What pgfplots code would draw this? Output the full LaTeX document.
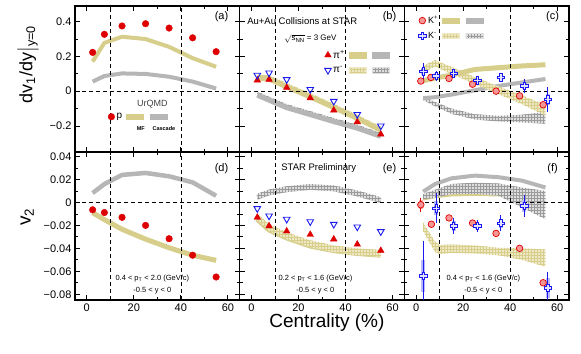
\documentclass[border=0pt]{standalone}
\usepackage{fontspec}
\setmainfont{Liberation Sans}
\usepackage{amsmath}
\usepackage{pgfplots}
\pgfplotsset{compat=1.18}
\usepgfplotslibrary{groupplots}
\usetikzlibrary{patterns,calc}

\definecolor{mf}{RGB}{214,206,138}
\definecolor{mfl}{RGB}{238,233,196}
\definecolor{cas}{RGB}{182,182,182}
\definecolor{casl}{RGB}{222,222,222}
\definecolor{pred}{RGB}{222,0,0}
\definecolor{pblue}{RGB}{25,25,240}
\definecolor{kpink}{RGB}{246,150,150}

% hollow plus for K-
\pgfdeclareplotmark{ocross}{%
  \pgfpathmoveto{\pgfqpoint{0.3\pgfplotmarksize}{\pgfplotmarksize}}%
  \pgfpathlineto{\pgfqpoint{0.3\pgfplotmarksize}{0.3\pgfplotmarksize}}%
  \pgfpathlineto{\pgfqpoint{\pgfplotmarksize}{0.3\pgfplotmarksize}}%
  \pgfpathlineto{\pgfqpoint{\pgfplotmarksize}{-0.3\pgfplotmarksize}}%
  \pgfpathlineto{\pgfqpoint{0.3\pgfplotmarksize}{-0.3\pgfplotmarksize}}%
  \pgfpathlineto{\pgfqpoint{0.3\pgfplotmarksize}{-\pgfplotmarksize}}%
  \pgfpathlineto{\pgfqpoint{-0.3\pgfplotmarksize}{-\pgfplotmarksize}}%
  \pgfpathlineto{\pgfqpoint{-0.3\pgfplotmarksize}{-0.3\pgfplotmarksize}}%
  \pgfpathlineto{\pgfqpoint{-\pgfplotmarksize}{-0.3\pgfplotmarksize}}%
  \pgfpathlineto{\pgfqpoint{-\pgfplotmarksize}{0.3\pgfplotmarksize}}%
  \pgfpathlineto{\pgfqpoint{-0.3\pgfplotmarksize}{0.3\pgfplotmarksize}}%
  \pgfpathlineto{\pgfqpoint{-0.3\pgfplotmarksize}{\pgfplotmarksize}}%
  \pgfpathclose\pgfusepathqfillstroke}

\tikzset{refl/.style={black, line width=0.6pt, dash pattern=on 4pt off 3pt}}
\newcommand{\reflines}{%
  \draw[refl] ({axis cs:10,0}|-{rel axis cs:0,0}) -- ({axis cs:10,0}|-{rel axis cs:0,1});
  \draw[refl] ({axis cs:40,0}|-{rel axis cs:0,0}) -- ({axis cs:40,0}|-{rel axis cs:0,1});
  \draw[refl] ({rel axis cs:0,0}|-{axis cs:0,0}) -- ({rel axis cs:1,0}|-{axis cs:0,0});}

\pgfplotsset{
  mfline/.style={draw=mf, line width=#1, line join=round, mark=none},
  casline/.style={draw=cas, line width=#1, line join=round, mark=none},
  mfhatch/.style={draw=none, fill=mfl, postaction={pattern=grid, pattern color=mf}, mark=none},
  cashatch/.style={draw=none, fill=casl, postaction={pattern=grid, pattern color=cas!85!black}, mark=none},
  protm/.style={only marks, mark=*, mark size=3.3pt, draw=pred, fill=pred},
  pipm/.style={only marks, mark=triangle*, mark size=3.8pt, draw=pred, fill=pred},
  pimm/.style={only marks, mark=triangle, mark size=3.8pt, draw=pblue, mark options={rotate=180, fill=white, line width=0.9pt}},
  kpm/.style={only marks, mark=*, mark size=3.3pt, draw=pred, fill=kpink, line width=0.7pt},
  kmm/.style={only marks, mark=ocross, mark size=3.8pt, draw=pblue, fill=pblue!12, line width=0.8pt},
  mfleg/.style={area legend, draw=mf, fill=mf},
  casleg/.style={area legend, draw=cas, fill=cas},
  mfhleg/.style={area legend, draw=mfl, fill=mfl, postaction={pattern=grid, pattern color=mf}},
  cashleg/.style={area legend, draw=casl, fill=casl, postaction={pattern=grid, pattern color=cas!85!black}},
  rowtop/.style={height=146pt, ymin=-0.35, ymax=0.49, ytick={-0.2,0,0.2,0.4}},
  rowbot/.style={height=148pt, ymin=-0.085, ymax=0.044, ytick={-0.08,-0.06,-0.04,-0.02,0,0.02,0.04}},
  leg/.style={legend columns=3, legend cell align=left,
    legend style={draw=none, fill=none, inner sep=0pt, font=\fontsize{10}{11}\selectfont,
      /tikz/every even column/.append style={column sep=2pt}}},
}

\begin{document}
\begin{tikzpicture}
\begin{groupplot}[
  group style={group size=3 by 2, horizontal sep=0pt, vertical sep=0pt,
    xticklabels at=edge bottom, yticklabels at=edge left},
  scale only axis, width=164.7pt,
  xmin=-5, xmax=65, xtick={0,20,40,60}, minor x tick num=1, minor y tick num=1,
  scaled y ticks=false,
  tick align=inside, major tick length=5pt, minor tick length=3pt,
  axis line style={line width=1.1pt}, every tick/.style={black, line width=0.8pt},
  tick label style={font=\fontsize{11}{12}\selectfont},
  /pgf/number format/assume math mode=true,
]

% (a) protons dv1/dy
\nextgroupplot[rowtop, yticklabels={−0.2,0,0.2,0.4},
  ylabel={dv\textsubscript{1}/dy$\big|$\textsubscript{y=0}},
  ylabel style={font=\fontsize{18}{19}\selectfont, at={(axis description cs:-0.285,0.6)}, anchor=center},
  leg, legend style={at={(axis description cs:0.20,0.28)}, anchor=north west,
    /tikz/column 2/.style={column sep=8pt}}]
\addlegendimage{protm}
\addlegendentry{p}
\addlegendimage{mfleg}
\addlegendentry{}
\addlegendimage{casleg}
\addlegendentry{}
\addplot[mfline=4pt] coordinates {(2.5,0.17)(7.5,0.278)(15,0.313)(25,0.30)(35,0.255)(45,0.19)(55,0.14)};
\addplot[casline=4pt] coordinates {(2.5,0.055)(7.5,0.087)(15,0.102)(25,0.099)(35,0.083)(45,0.055)(55,0.015)};
\reflines
\addplot[protm] coordinates {(2.5,0.223)(7.5,0.327)(15,0.375)(25,0.388)(35,0.363)(45,0.307)(55,0.227)};
\node[font=\fontsize{11}{12}\selectfont] at (axis description cs:0.89,0.925) {(a)};
\node[font=\fontsize{9}{10}\selectfont, text=black!75] at (axis description cs:0.47,0.325) {UrQMD};
\node[font=\bfseries\fontsize{5.5}{6}\selectfont] at (axis description cs:0.40,0.16) {MF};
\node[font=\bfseries\fontsize{5.5}{6}\selectfont] at (axis description cs:0.54,0.16) {Cascade};

% (b) pions dv1/dy
\nextgroupplot[rowtop, leg, legend style={at={(axis description cs:0.515,0.71)}, anchor=north west, row sep=3pt}]
\addlegendimage{pipm}
\addlegendentry{π\textsuperscript{+}}
\addlegendimage{mfleg}
\addlegendentry{}
\addlegendimage{casleg}
\addlegendentry{}
\addlegendimage{pimm}
\addlegendentry{π\textsuperscript{-}}
\addlegendimage{mfhleg}
\addlegendentry{}
\addlegendimage{cashleg}
\addlegendentry{}
\addplot[cashatch] coordinates {(2.5,-0.003)(7.5,-0.032)(15,-0.075)(25,-0.115)(35,-0.155)(45,-0.193)(55,-0.24)
  (55,-0.268)(45,-0.221)(35,-0.183)(25,-0.143)(15,-0.103)(7.5,-0.06)(2.5,-0.031)} -- cycle;
\addplot[casline=5pt] coordinates {(2.5,-0.023)(7.5,-0.052)(15,-0.095)(25,-0.135)(35,-0.175)(45,-0.213)(55,-0.26)};
\addplot[mfhatch] coordinates {(2.5,0.096)(7.5,0.091)(15,0.046)(25,-0.012)(35,-0.073)(45,-0.136)(55,-0.204)
  (55,-0.236)(45,-0.168)(35,-0.105)(25,-0.044)(15,0.014)(7.5,0.059)(2.5,0.064)} -- cycle;
\addplot[mfline=5pt] coordinates {(2.5,0.075)(7.5,0.07)(15,0.025)(25,-0.033)(35,-0.094)(45,-0.157)(55,-0.225)};
\reflines
\addplot[pipm] coordinates {(2.5,0.063)(7.5,0.067)(15,0.021)(25,-0.039)(35,-0.11)(45,-0.177)(55,-0.248)};
\addplot[pimm] coordinates {(2.5,0.092)(7.5,0.105)(15,0.067)(25,0.01)(35,-0.058)(45,-0.134)(55,-0.20)};
\node[font=\fontsize{11}{12}\selectfont] at (axis description cs:0.91,0.925) {(b)};
\node[font=\fontsize{9.5}{10}\selectfont] at (axis description cs:0.38,0.895) {Au+Au Collisions at STAR};
\node[font=\fontsize{8}{9}\selectfont] at (axis description cs:0.43,0.775) {$\sqrt{\text{s}_{\text{NN}}}$ = 3 GeV};

% (c) kaons dv1/dy
\nextgroupplot[rowtop, leg, legend style={at={(axis description cs:0.085,0.945)}, anchor=north west, row sep=3pt, font=\fontsize{9}{10}\selectfont,
    /tikz/column 2/.style={column sep=5pt}}]
\addlegendimage{kpm}
\addlegendentry{K\textsuperscript{+}}
\addlegendimage{mfleg}
\addlegendentry{}
\addlegendimage{casleg}
\addlegendentry{}
\addlegendimage{kmm}
\addlegendentry{K\textsuperscript{-}}
\addlegendimage{mfhleg}
\addlegendentry{}
\addlegendimage{cashleg}
\addlegendentry{}
\addplot[cashatch] coordinates {(3,-0.032)(8,-0.062)(15,-0.10)(25,-0.133)(35,-0.142)(45,-0.136)(55,-0.119)
  (55,-0.187)(45,-0.18)(35,-0.174)(25,-0.163)(15,-0.13)(8,-0.086)(3,-0.052)} -- cycle;
\addplot[casline=4pt] coordinates {(3,-0.04)(8,-0.035)(15,-0.02)(25,0.005)(35,0.03)(45,0.05)(55,0.07)};
\addplot[mfhatch] coordinates {(3,0.145)(8,0.178)(15,0.14)(25,0.08)(35,0.027)(45,-0.025)(55,-0.08)
  (55,-0.14)(45,-0.075)(35,-0.017)(25,0.04)(15,0.10)(8,0.142)(3,0.105)} -- cycle;
\addplot[mfline=5pt] coordinates {(3,0.06)(8,0.075)(15,0.092)(25,0.125)(35,0.135)(45,0.145)(55,0.152)};
\reflines
\addplot[kpm] coordinates {(2,0.058)(6.3,0.079)(14,0.073)(24,0.040)(34,0.0)(44,-0.027)(54,-0.078)};
\addplot[only marks, mark=none, error bars/.cd, y dir=both, y explicit,
  error bar style={line width=4pt, pblue!30}, error mark=none]
  coordinates {(3,0.115)+-(0,0.02)(8.5,0.088)+-(0,0.014)(16,0.102)+-(0,0.012)(26,0.063)+-(0,0.014)
  (36,0.079)+-(0,0.012)(46,0.031)+-(0,0.02)(56,-0.048)+-(0,0.03)};
\addplot[kmm, error bars/.cd, y dir=both, y explicit,
  error bar style={pblue, line width=0.8pt}, error mark=none]
  coordinates {(3,0.115)+-(0,0.045)(8.5,0.088)+-(0,0.028)(16,0.102)+-(0,0.022)(26,0.063)+-(0,0.025)
  (36,0.079)+-(0,0.022)(46,0.031)+-(0,0.04)(56,-0.048)+-(0,0.07)};
\node[font=\fontsize{11}{12}\selectfont] at (axis description cs:0.90,0.925) {(c)};

% (d) protons v2
\nextgroupplot[rowbot, yticklabels={−0.08,−0.06,−0.04,−0.02,0,0.02,0.04},
  ylabel={v\textsubscript{2}},
  ylabel style={font=\fontsize{19}{20}\selectfont, at={(axis description cs:-0.29,0.56)}, anchor=center}]
\addplot[mfline=5pt] coordinates {(2.5,-0.009)(7.5,-0.015)(15,-0.0234)(25,-0.032)(35,-0.0395)(45,-0.046)(55,-0.0505)};
\addplot[casline=4.5pt] coordinates {(2.5,0.0082)(7.5,0.016)(15,0.024)(25,0.0257)(35,0.0228)(45,0.0175)(55,0.0058)};
\reflines
\addplot[protm] coordinates {(2.5,-0.0064)(7.5,-0.0088)(15,-0.013)(25,-0.020)(35,-0.0316)(45,-0.046)(55,-0.065)};
\node[font=\fontsize{11}{12}\selectfont] at (axis description cs:0.89,0.89) {(d)};
\node[font=\fontsize{7.5}{8}\selectfont] at (axis description cs:0.47,0.147) {0.4 < p\textsubscript{T} < 2.0 (GeV/c)};
\node[font=\fontsize{7.5}{8}\selectfont] at (axis description cs:0.47,0.063) {-0.5 < y < 0};

% (e) pions v2
\nextgroupplot[rowbot, xlabel={Centrality (\%)},
  xlabel style={font=\fontsize{19}{20}\selectfont, at={(axis description cs:0.53,-0.15)}, anchor=center}]
\addplot[casline=4.5pt] coordinates {(2.5,0.0044)(7.5,0.0082)(15,0.011)(25,0.013)(35,0.0117)(45,0.0073)(55,0.0015)};
\addplot[cashatch] coordinates {(2.5,0.0075)(7.5,0.0113)(15,0.0141)(25,0.0161)(35,0.0148)(45,0.0104)(55,0.0046)
  (55,-0.0004)(45,0.0054)(35,0.0098)(25,0.0111)(15,0.0091)(7.5,0.0063)(2.5,0.0025)} -- cycle;
\addplot[mfline=5pt] coordinates {(2.5,-0.0146)(7.5,-0.024)(15,-0.031)(25,-0.038)(35,-0.042)(45,-0.0445)(55,-0.046)};
\addplot[mfhatch] coordinates {(2.5,-0.0096)(7.5,-0.019)(15,-0.026)(25,-0.033)(35,-0.0375)(45,-0.040)(55,-0.0415)
  (55,-0.0475)(45,-0.046)(35,-0.0435)(25,-0.039)(15,-0.032)(7.5,-0.025)(2.5,-0.0156)} -- cycle;
\reflines
\addplot[pipm] coordinates {(2.5,-0.013)(7.5,-0.0205)(15,-0.025)(25,-0.028)(35,-0.032)(45,-0.0365)(55,-0.042)};
\addplot[pimm] coordinates {(2.5,-0.0053)(7.5,-0.0117)(15,-0.0146)(25,-0.0167)(35,-0.019)(45,-0.0213)(55,-0.0254)};
\node[font=\fontsize{11}{12}\selectfont] at (axis description cs:0.91,0.89) {(e)};
\node[font=\fontsize{9.5}{10}\selectfont] at (axis description cs:0.48,0.89) {STAR Preliminary};
\node[font=\fontsize{7.5}{8}\selectfont] at (axis description cs:0.46,0.147) {0.2 < p\textsubscript{T} < 1.6 (GeV/c)};
\node[font=\fontsize{7.5}{8}\selectfont] at (axis description cs:0.46,0.063) {-0.5 < y < 0};

% (f) kaons v2
\nextgroupplot[rowbot]
\addplot[casline=4pt] coordinates {(3,0.0094)(8,0.016)(15,0.021)(25,0.0234)(35,0.022)(45,0.019)(55,0.013)};
\addplot[mfline=3pt] coordinates {(3,0.003)(8,0.005)(15,0.0065)(25,0.007)(35,0.0065)(45,0.005)(55,0.002)};
\addplot[cashatch] coordinates {(3,0.0073)(8,0.011)(15,0.016)(25,0.0172)(35,0.0165)(45,0.013)(55,0.010)
  (55,-0.0146)(45,-0.0044)(35,0.006)(25,0.0075)(15,0.0073)(8,0.004)(3,0.0029)} -- cycle;
\addplot[mfhatch] coordinates {(3,-0.0175)(8,-0.034)(10,-0.037)(15,-0.0365)(25,-0.0375)(35,-0.0395)(45,-0.040)(55,-0.041)
  (55,-0.056)(45,-0.050)(35,-0.046)(25,-0.0445)(15,-0.044)(10,-0.045)(8,-0.043)(3,-0.025)} -- cycle;
\reflines
\addplot[only marks, mark=none, error bars/.cd, y dir=both, y explicit,
  error bar style={line width=4pt, pred!30}, error mark=none]
  coordinates {(2,-0.002)+-(0,0.004)};
\addplot[kpm, error bars/.cd, y dir=both, y explicit,
  error bar style={pred, line width=0.8pt}, error mark=none]
  coordinates {(2,-0.002)+-(0,0.006)(6.5,-0.019)+-(0,0.001)(14,-0.0135)+-(0,0.001)(24,-0.018)+-(0,0.001)
  (34,-0.027)+-(0,0.001)(44,-0.040)+-(0,0.001)(54,-0.070)+-(0,0.002)};
\addplot[only marks, mark=none, error bars/.cd, y dir=both, y explicit,
  error bar style={line width=4pt, pblue!30}, error mark=none]
  coordinates {(3,-0.064)+-(0,0.014)(8.5,-0.005)+-(0,0.006)(16,-0.0205)+-(0,0.004)(26,-0.0205)+-(0,0.003)
  (36,-0.018)+-(0,0.004)(46,-0.003)+-(0,0.005)(56,-0.0745)+-(0,0.009)};
\addplot[kmm, error bars/.cd, y dir=both, y explicit,
  error bar style={pblue, line width=0.8pt}, error mark=none]
  coordinates {(3,-0.064)+-(0,0.03)(8.5,-0.005)+-(0,0.013)(16,-0.0205)+-(0,0.0066)(26,-0.0205)+-(0,0.005)
  (36,-0.018)+-(0,0.007)(46,-0.003)+-(0,0.0095)(56,-0.0745)+-(0,0.014)};
\node[font=\fontsize{11}{12}\selectfont] at (axis description cs:0.90,0.89) {(f)};
\node[font=\fontsize{7.5}{8}\selectfont] at (axis description cs:0.48,0.147) {0.4 < p\textsubscript{T} < 1.6 (GeV/c)};
\node[font=\fontsize{7.5}{8}\selectfont] at (axis description cs:0.48,0.063) {-0.5 < y < 0};
\end{groupplot}
\pgfresetboundingbox
\useasboundingbox ($(group c1r1.north west)+(-75pt,6pt)$) rectangle ($(group c3r2.south east)+(12pt,-54pt)$);
\end{tikzpicture}
\end{document}
